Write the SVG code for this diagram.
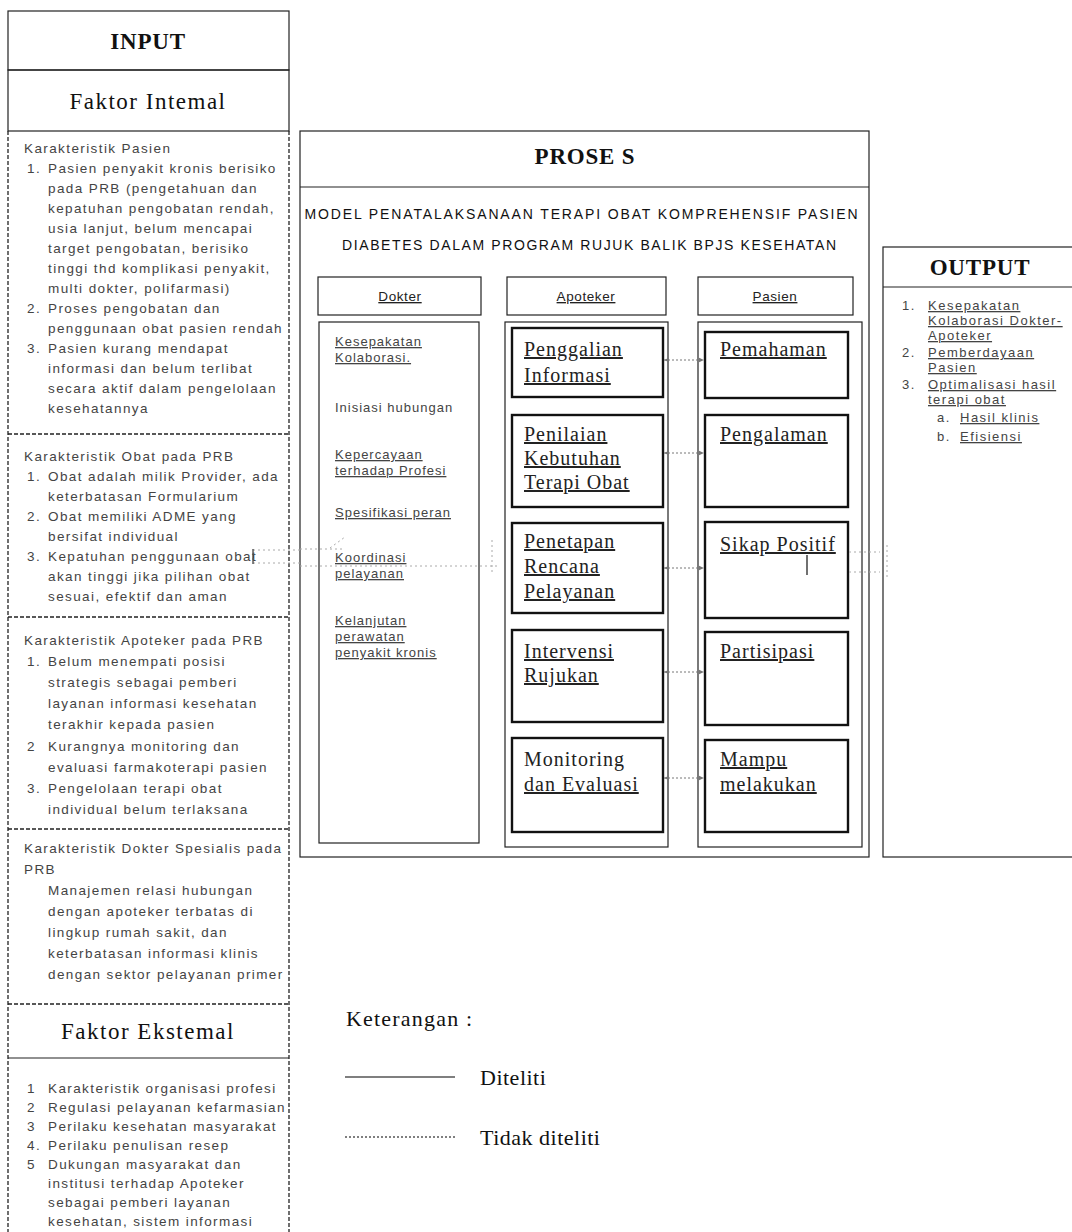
<svg xmlns="http://www.w3.org/2000/svg" width="1072" height="1232" viewBox="0 0 1072 1232">
  <style>
    .bg { fill: #ffffff; }
    .box { fill: none; stroke: #222; stroke-width: 1.2; }
    .thick { fill: none; stroke: #111; stroke-width: 2.4; }
    .dash { fill: none; stroke: #222; stroke-width: 1.3; stroke-dasharray: 4 2; }
    .head { font-family: "Liberation Serif", "Times New Roman", serif; font-weight: bold; font-size: 23px; letter-spacing: 0.8px; fill: #111; text-anchor: middle; }
    .sub { font-family: "Liberation Serif", "Times New Roman", serif; font-size: 23px; letter-spacing: 1.5px; fill: #111; text-anchor: middle; }
    .sm { font-family: "Liberation Sans", Arial, sans-serif; font-size: 13.5px; letter-spacing: 1.4px; fill: #444; }
    .dk { font-family: "Liberation Sans", Arial, sans-serif; font-size: 13px; letter-spacing: 1px; fill: #444; }
    .out { font-family: "Liberation Sans", Arial, sans-serif; font-size: 13px; letter-spacing: 1.5px; fill: #444; }
    .cap { font-family: "Liberation Sans", Arial, sans-serif; font-size: 13.5px; letter-spacing: 0.6px; fill: #222; text-anchor: middle; }
    .title { font-family: "Liberation Sans", Arial, sans-serif; font-size: 14px; fill: #111; text-anchor: middle; }
    .ser { font-family: "Liberation Serif", "Times New Roman", serif; font-size: 20px; letter-spacing: 1px; fill: #222; }
    .ul { text-decoration: underline dotted #999; }
    .conn { fill: none; stroke: #777; stroke-width: 1; stroke-dasharray: 2 2; }
    .faint { fill: none; stroke: #aaa; stroke-width: 1; stroke-dasharray: 2 3; }
    .leg { font-family: "Liberation Serif", "Times New Roman", serif; font-size: 22px; fill: #111; }
  </style>
  <defs>
    <marker id="arr" viewBox="0 0 8 8" refX="7" refY="4" markerWidth="6" markerHeight="6" orient="auto-start-reverse">
      <path d="M0,1 L7,4 L0,7 Z" fill="#777"/>
    </marker>
  </defs>

  <rect class="bg" x="0" y="0" width="1072" height="1232"/>

  <!-- INPUT column -->
  <g id="input">
    <rect class="box" x="8" y="11" width="281" height="59"/>
    <rect class="box" x="8" y="70" width="281" height="61"/>
    <text class="head" x="148" y="49">INPUT</text>
    <text class="sub" x="148" y="109">Faktor Intemal</text>
    <line class="dash" x1="8" y1="131" x2="8" y2="1232"/>
    <line class="dash" x1="289" y1="131" x2="289" y2="1232"/>
  </g>

  <g id="karakteristik-pasien">
    <text class="sm" x="24" y="153">Karakteristik Pasien</text>
    <text class="sm" x="27" y="173">1.</text>
    <text class="sm" x="48" y="173">Pasien penyakit kronis berisiko</text>
    <text class="sm" x="48" y="193">pada PRB (pengetahuan dan</text>
    <text class="sm" x="48" y="213">kepatuhan pengobatan rendah,</text>
    <text class="sm" x="48" y="233">usia lanjut, belum mencapai</text>
    <text class="sm" x="48" y="253">target pengobatan, berisiko</text>
    <text class="sm" x="48" y="273">tinggi thd komplikasi penyakit,</text>
    <text class="sm" x="48" y="293">multi dokter, polifarmasi)</text>
    <text class="sm" x="27" y="313">2.</text>
    <text class="sm" x="48" y="313">Proses pengobatan dan</text>
    <text class="sm" x="48" y="333">penggunaan obat pasien rendah</text>
    <text class="sm" x="27" y="353">3.</text>
    <text class="sm" x="48" y="353">Pasien kurang mendapat</text>
    <text class="sm" x="48" y="373">informasi dan belum terlibat</text>
    <text class="sm" x="48" y="393">secara aktif dalam pengelolaan</text>
    <text class="sm" x="48" y="413">kesehatannya</text>
    <line class="dash" x1="8" y1="434" x2="289" y2="434"/>
  </g>

  <g id="karakteristik-obat">
    <text class="sm" x="24" y="461">Karakteristik Obat pada PRB</text>
    <text class="sm" x="27" y="481">1.</text>
    <text class="sm" x="48" y="481">Obat adalah milik Provider, ada</text>
    <text class="sm" x="48" y="501">keterbatasan Formularium</text>
    <text class="sm" x="27" y="521">2.</text>
    <text class="sm" x="48" y="521">Obat memiliki ADME yang</text>
    <text class="sm" x="48" y="541">bersifat individual</text>
    <text class="sm" x="27" y="561">3.</text>
    <text class="sm" x="48" y="561">Kepatuhan penggunaan obat</text>
    <text class="sm" x="48" y="581">akan tinggi jika pilihan obat</text>
    <text class="sm" x="48" y="601">sesuai, efektif dan aman</text>
    <line class="dash" x1="8" y1="617" x2="289" y2="617"/>
  </g>

  <g id="karakteristik-apoteker">
    <text class="sm" x="24" y="645">Karakteristik Apoteker pada PRB</text>
    <text class="sm" x="27" y="666">1.</text>
    <text class="sm" x="48" y="666">Belum menempati posisi</text>
    <text class="sm" x="48" y="687">strategis sebagai pemberi</text>
    <text class="sm" x="48" y="708">layanan informasi kesehatan</text>
    <text class="sm" x="48" y="729">terakhir kepada pasien</text>
    <text class="sm" x="27" y="751">2</text>
    <text class="sm" x="48" y="751">Kurangnya monitoring dan</text>
    <text class="sm" x="48" y="772">evaluasi farmakoterapi pasien</text>
    <text class="sm" x="27" y="793">3.</text>
    <text class="sm" x="48" y="793">Pengelolaan terapi obat</text>
    <text class="sm" x="48" y="814">individual belum terlaksana</text>
    <line class="dash" x1="8" y1="829" x2="289" y2="829"/>
  </g>

  <g id="karakteristik-dokter">
    <text class="sm" x="24" y="853">Karakteristik Dokter Spesialis pada</text>
    <text class="sm" x="24" y="874">PRB</text>
    <text class="sm" x="48" y="895">Manajemen relasi hubungan</text>
    <text class="sm" x="48" y="916">dengan apoteker terbatas di</text>
    <text class="sm" x="48" y="937">lingkup rumah sakit, dan</text>
    <text class="sm" x="48" y="958">keterbatasan informasi klinis</text>
    <text class="sm" x="48" y="979">dengan sektor pelayanan primer</text>
    <line class="dash" x1="8" y1="1004" x2="289" y2="1004"/>
  </g>

  <g id="faktor-eksternal">
    <text class="sub" x="148" y="1039">Faktor Ekstemal</text>
    <line class="box" x1="8" y1="1058" x2="289" y2="1058"/>
    <text class="sm" x="27" y="1093">1</text>
    <text class="sm" x="48" y="1093">Karakteristik organisasi profesi</text>
    <text class="sm" x="27" y="1112">2</text>
    <text class="sm" x="48" y="1112">Regulasi pelayanan kefarmasian</text>
    <text class="sm" x="27" y="1131">3</text>
    <text class="sm" x="48" y="1131">Perilaku kesehatan masyarakat</text>
    <text class="sm" x="27" y="1150">4.</text>
    <text class="sm" x="48" y="1150">Perilaku penulisan resep</text>
    <text class="sm" x="27" y="1169">5</text>
    <text class="sm" x="48" y="1169">Dukungan masyarakat dan</text>
    <text class="sm" x="48" y="1188">institusi terhadap Apoteker</text>
    <text class="sm" x="48" y="1207">sebagai pemberi layanan</text>
    <text class="sm" x="48" y="1226">kesehatan, sistem informasi</text>
  </g>

  <!-- PROSES frame -->
  <g id="proses">
    <rect class="box" x="300" y="131" width="569" height="726"/>
    <line class="box" x1="300" y1="187" x2="869" y2="187"/>
    <text class="head" x="585" y="164">PROSE S</text>
    <text class="title" x="581" y="219" textLength="553" lengthAdjust="spacing">MODEL PENATALAKSANAAN TERAPI OBAT KOMPREHENSIF PASIEN</text>
    <text class="title" x="589" y="250" textLength="494" lengthAdjust="spacing">DIABETES DALAM PROGRAM RUJUK BALIK BPJS KESEHATAN</text>
  </g>

  <!-- Dokter column -->
  <g id="dokter">
    <rect class="box" x="318" y="277" width="163" height="38" stroke-width="1.6"/>
    <text class="cap ul" x="400" y="301">Dokter</text>
    <rect class="box" x="319" y="322" width="160" height="521"/>
    <text class="dk ul" x="335" y="346">Kesepakatan</text>
    <text class="dk ul" x="335" y="362">Kolaborasi.</text>
    <text class="dk" x="335" y="412">Inisiasi hubungan</text>
    <text class="dk ul" x="335" y="459">Kepercayaan</text>
    <text class="dk ul" x="335" y="475">terhadap Profesi</text>
    <text class="dk ul" x="335" y="517">Spesifikasi peran</text>
    <text class="dk ul" x="335" y="562">Koordinasi</text>
    <text class="dk ul" x="335" y="578">pelayanan</text>
    <text class="dk ul" x="335" y="625">Kelanjutan</text>
    <text class="dk ul" x="335" y="641">perawatan</text>
    <text class="dk ul" x="335" y="657">penyakit kronis</text>
  </g>

  <!-- Apoteker column -->
  <g id="apoteker">
    <rect class="box" x="507" y="277" width="159" height="38" stroke-width="1.6"/>
    <text class="cap ul" x="586" y="301">Apoteker</text>
    <rect class="box" x="505" y="322" width="163" height="525"/>
  </g>
  <g id="penggalian-informasi">
    <rect class="thick" x="512" y="328" width="151" height="69"/>
    <text class="ser ul" x="524" y="356">Penggalian</text>
    <text class="ser ul" x="524" y="382">Informasi</text>
  </g>
  <g id="penilaian-kebutuhan">
    <rect class="thick" x="512" y="415" width="151" height="92"/>
    <text class="ser ul" x="524" y="441">Penilaian</text>
    <text class="ser ul" x="524" y="465">Kebutuhan</text>
    <text class="ser ul" x="524" y="489">Terapi Obat</text>
  </g>
  <g id="penetapan-rencana">
    <rect class="thick" x="512" y="523" width="151" height="90"/>
    <text class="ser ul" x="524" y="548">Penetapan</text>
    <text class="ser ul" x="524" y="573">Rencana</text>
    <text class="ser ul" x="524" y="598">Pelayanan</text>
  </g>
  <g id="intervensi-rujukan">
    <rect class="thick" x="512" y="630" width="151" height="92"/>
    <text class="ser ul" x="524" y="658">Intervensi</text>
    <text class="ser ul" x="524" y="682">Rujukan</text>
  </g>
  <g id="monitoring-evaluasi">
    <rect class="thick" x="512" y="738" width="151" height="94"/>
    <text class="ser" x="524" y="766">Monitoring</text>
    <text class="ser ul" x="524" y="791">dan Evaluasi</text>
  </g>

  <!-- Pasien column -->
  <g id="pasien">
    <rect class="box" x="698" y="277" width="155" height="38" stroke-width="1.6"/>
    <text class="cap ul" x="775" y="301">Pasien</text>
    <rect class="box" x="698" y="322" width="164" height="525"/>
  </g>
  <g id="pemahaman">
    <rect class="thick" x="705" y="332" width="143" height="66"/>
    <text class="ser ul" x="720" y="356">Pemahaman</text>
  </g>
  <g id="pengalaman">
    <rect class="thick" x="705" y="415" width="143" height="92"/>
    <text class="ser ul" x="720" y="441">Pengalaman</text>
  </g>
  <g id="sikap-positif">
    <rect class="thick" x="705" y="522" width="143" height="96"/>
    <text class="ser ul" x="720" y="551">Sikap Positif</text>
    <line x1="807" y1="555" x2="807" y2="575" stroke="#111" stroke-width="1.2"/>
  </g>
  <g id="partisipasi">
    <rect class="thick" x="705" y="632" width="143" height="93"/>
    <text class="ser ul" x="720" y="658">Partisipasi</text>
  </g>
  <g id="mampu-melakukan">
    <rect class="thick" x="705" y="740" width="143" height="92"/>
    <text class="ser ul" x="720" y="766">Mampu</text>
    <text class="ser ul" x="720" y="791">melakukan</text>
  </g>

  <!-- OUTPUT column -->
  <g id="output">
    <rect class="box" x="883" y="247" width="194" height="610"/>
    <line class="box" x1="883" y1="287" x2="1072" y2="287"/>
    <text class="head" x="980" y="275">OUTPUT</text>
    <text class="out" x="902" y="310">1.</text>
    <text class="out ul" x="928" y="310">Kesepakatan</text>
    <text class="out ul" x="928" y="325">Kolaborasi Dokter-</text>
    <text class="out ul" x="928" y="340">Apoteker</text>
    <text class="out" x="902" y="357">2.</text>
    <text class="out ul" x="928" y="357">Pemberdayaan</text>
    <text class="out ul" x="928" y="372">Pasien</text>
    <text class="out" x="902" y="389">3.</text>
    <text class="out ul" x="928" y="389">Optimalisasi hasil</text>
    <text class="out ul" x="928" y="404">terapi obat</text>
    <text class="out" x="937" y="422">a.</text>
    <text class="out ul" x="960" y="422">Hasil klinis</text>
    <text class="out" x="937" y="441">b.</text>
    <text class="out ul" x="960" y="441">Efisiensi</text>
  </g>

  <!-- connectors -->
  <g id="connectors">
    <line class="conn" x1="664" y1="360" x2="704" y2="360" marker-start="url(#arr)" marker-end="url(#arr)"/>
    <line class="conn" x1="664" y1="453" x2="704" y2="453" marker-start="url(#arr)" marker-end="url(#arr)"/>
    <line class="conn" x1="664" y1="568" x2="704" y2="568" marker-start="url(#arr)" marker-end="url(#arr)"/>
    <line class="conn" x1="664" y1="672" x2="704" y2="672" marker-start="url(#arr)" marker-end="url(#arr)"/>
    <line class="conn" x1="664" y1="778" x2="704" y2="778" marker-start="url(#arr)" marker-end="url(#arr)"/>
    <!-- faint traces of the untested links -->
    <path class="faint" d="M300,550 H253 V563 H300"/>
    <line x1="253" y1="549" x2="253" y2="564" stroke="#333" stroke-width="1.2"/>
    <path class="faint" d="M300,549 H345 M300,566 H500 M330,548 L345,537 M492,540 V572"/>
    <path class="faint" d="M849,552 H880 M849,572 H880 M887,545 V580"/>
  </g>

  <!-- legend -->
  <g id="legend">
    <text class="leg" x="346" y="1026" letter-spacing="1.2">Keterangan :</text>
    <line x1="345" y1="1077" x2="455" y2="1077" stroke="#555" stroke-width="1.3"/>
    <text class="leg" x="480" y="1085" letter-spacing="0.5">Diteliti</text>
    <line x1="345" y1="1137" x2="455" y2="1137" stroke="#555" stroke-width="1.3" stroke-dasharray="2 2"/>
    <text class="leg" x="480" y="1145" letter-spacing="0.5">Tidak diteliti</text>
  </g>
</svg>
